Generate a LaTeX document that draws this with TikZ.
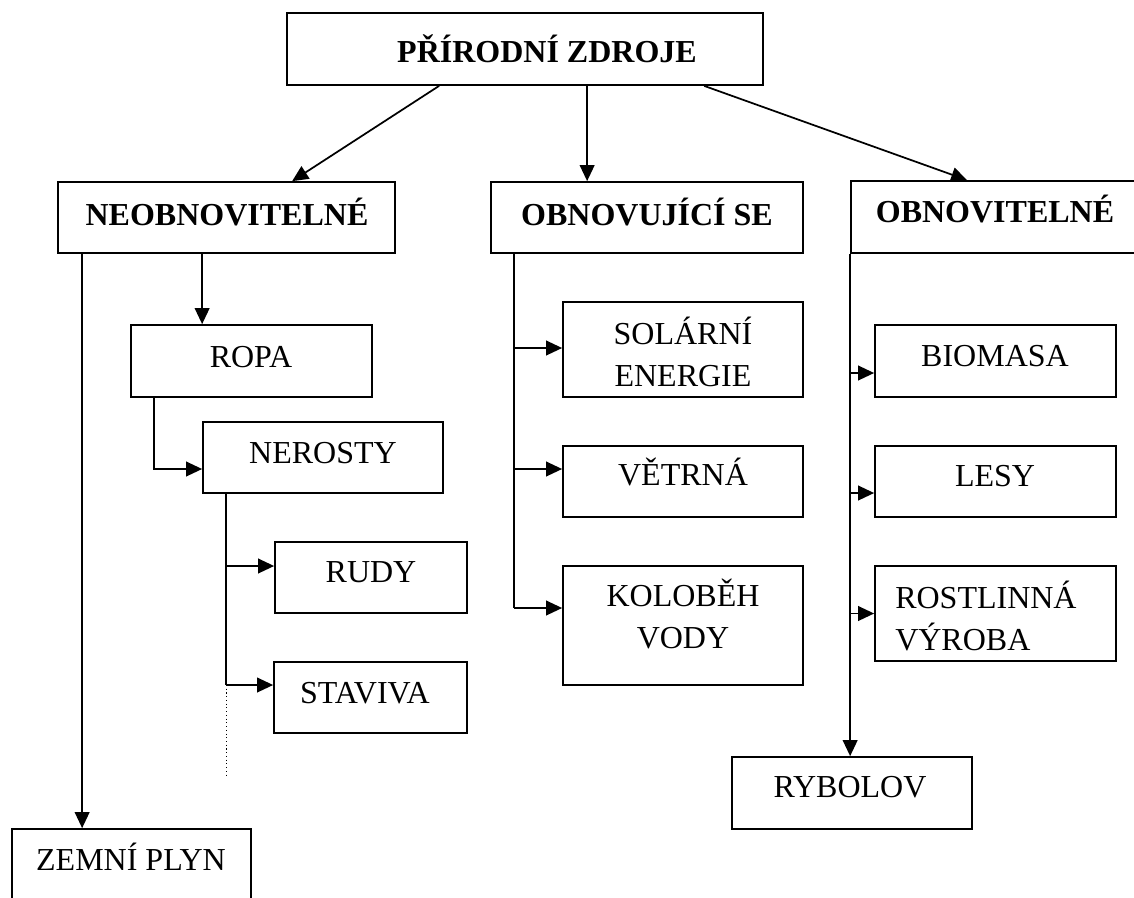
\documentclass[tikz,border=0pt]{standalone}
\usepackage{fontspec}
\setmainfont{Liberation Serif}
\usetikzlibrary{arrows.meta,fit,calc}

\tikzset{
  box/.style={draw, line width=1.3pt, inner sep=0pt},
  lbl/.style={inner sep=0pt, anchor=base, align=center, font=\fontsize{24}{31.5}\selectfont},
  head/.style={lbl, font=\fontsize{24}{31.5}\selectfont\bfseries},
  link/.style={line width=1.3pt},
  arr/.style={link, -{Triangle[length=12pt,width=11pt]}},
}

\begin{document}
\begin{tikzpicture}[x=0.75pt, y=-0.75pt]
  \clip (0,0) rectangle (1134,897);

  % root
  \node[box, fit={(287,13) (763,85)}] (zdroje) {};
  \node[head] (zdroje-t) at (547,62) {PŘÍRODNÍ ZDROJE};

  % three groups
  \node[box, fit={(58,182) (395,253)}] (neob) {};
  \node[head] (neob-t) at (227,225) {NEOBNOVITELNÉ};
  \node[box, fit={(491,182) (803,253)}] (obnse) {};
  \node[head] (obnse-t) at (647,225) {OBNOVUJÍCÍ SE};
  \node[box, fit={(851,181) (1160,253)}] (obn) {};
  \node[head] (obn-t) at (995,222) {OBNOVITELNÉ};

  % neobnovitelne
  \node[box, fit={(131,325) (372,397)}] (ropa) {};
  \node[lbl] (ropa-t) at (251,367) {ROPA};
  \node[box, fit={(203,422) (443,493)}] (nerosty) {};
  \node[lbl] (nerosty-t) at (323,463) {NEROSTY};
  \node[box, fit={(275,542) (467,613)}] (rudy) {};
  \node[lbl] (rudy-t) at (371,582) {RUDY};
  \node[box, fit={(274,662) (467,733)}] (staviva) {};
  \node[lbl] (staviva-t) at (365,703) {STAVIVA};
  \node[box, fit={(12,829) (251,930)}] (plyn) {};
  \node[lbl] (plyn-t) at (131,870) {ZEMNÍ PLYN};

  % obnovujici se (base = last line)
  \node[box, fit={(563,302) (803,397)}] (solar) {};
  \node[lbl] (solar-t) at (683,386) {SOLÁRNÍ\\ENERGIE};
  \node[box, fit={(563,446) (803,517)}] (vitr) {};
  \node[lbl] (vitr-t) at (683,485) {VĚTRNÁ};
  \node[box, fit={(563,566) (803,685)}] (voda) {};
  \node[lbl] (voda-t) at (683,648) {KOLOBĚH\\VODY};

  % obnovitelne
  \node[box, fit={(875,325) (1116,397)}] (bio) {};
  \node[lbl] (bio-t) at (995,366) {BIOMASA};
  \node[box, fit={(875,446) (1116,517)}] (lesy) {};
  \node[lbl] (lesy-t) at (995,486) {LESY};
  \node[box, fit={(875,566) (1116,661)}] (rost) {};
  \begin{scope}
    \clip (876,567) rectangle (1115,651);
    \node[lbl, align=left, anchor=base west] (rost-t) at (895,650) {ROSTLINNÁ\\VÝROBA};
  \end{scope}
  \node[box, fit={(732,757) (972,829)}] (ryb) {};
  \node[lbl] (ryb-t) at (850,797) {RYBOLOV};

  % root links
  \draw[arr] ($(zdroje.south west)+(153,0)$) -- ($(neob.north west)+(235,0)$);
  \draw[arr] ($(zdroje.south west)+(301,0)$) -- ($(obnse.north west)+(97,0)$);
  \draw[arr] ($(zdroje.south west)+(418,0)$) -- ($(obn.north west)+(117,0)$);

  % left branch
  \coordinate (ropa-in) at ($(ropa.north west)+(72,0)$);
  \draw[arr] (ropa-in |- neob.south) -- (ropa-in);
  \coordinate (plyn-in) at ($(plyn.north west)+(71,0)$);
  \draw[arr] (plyn-in |- neob.south) -- (plyn-in);
  \coordinate (ner-in) at ($(nerosty.west)+(0,11.5)$);
  \draw[arr] ($(ropa.south west)+(24,0)$) |- (ner-in);
  \coordinate (ner-trunk) at ($(nerosty.south west)+(24,0)$);
  \coordinate (rudy-in) at ($(rudy.west)+(0,-11.5)$);
  \coordinate (stav-in) at ($(staviva.west)+(0,-12.5)$);
  \draw[link] (ner-trunk) -- (ner-trunk |- stav-in);
  \draw[arr] (ner-trunk |- rudy-in) -- (rudy-in);
  \draw[arr] (ner-trunk |- stav-in) -- (stav-in);
  \draw[dotted, line width=0.8pt] (ner-trunk |- stav-in) -- ++(0,92);

  % middle branch
  \coordinate (mid-trunk) at ($(obnse.south west)+(24,0)$);
  \coordinate (solar-in) at ($(solar.west)+(0,-1.5)$);
  \coordinate (vitr-in) at ($(vitr.west)+(0,-12.5)$);
  \coordinate (voda-in) at ($(voda.west)+(0,-17.5)$);
  \draw[link] (mid-trunk) -- (mid-trunk |- voda-in);
  \foreach \t in {solar-in, vitr-in, voda-in}
    \draw[arr] (mid-trunk |- \t) -- (\t);

  % right branch
  \coordinate (bio-in) at ($(bio.west)+(0,12)$);
  \coordinate (lesy-in) at ($(lesy.west)+(0,11.5)$);
  \coordinate (rost-in) at (rost.west);
  \draw[arr] (obn.south west) -- (obn.south west |- ryb.north);
  \foreach \t in {bio-in, lesy-in, rost-in}
    \draw[arr] (obn.south west |- \t) -- (\t);
\end{tikzpicture}
\end{document}
